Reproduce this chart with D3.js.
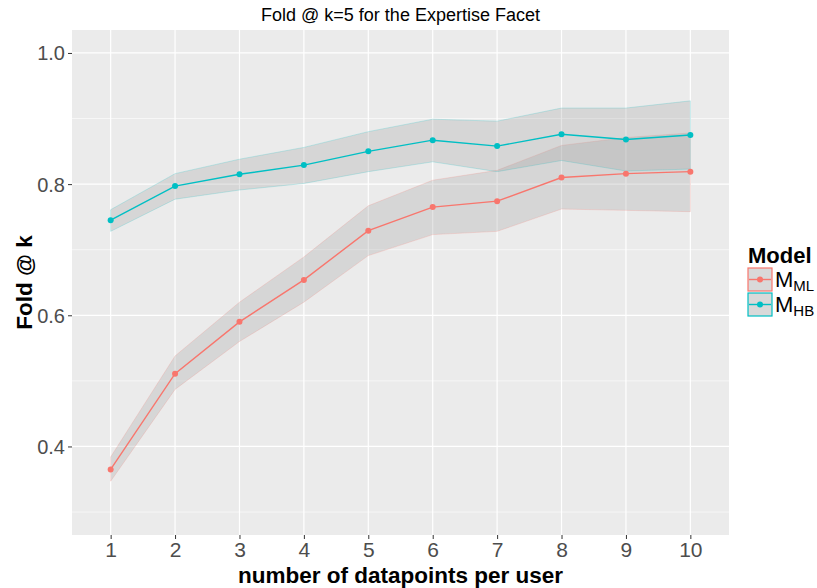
<!DOCTYPE html>
<html><head><meta charset="utf-8">
<script src="https://cdn.jsdelivr.net/npm/d3@7"></script>
<style>body{margin:0;background:#fff}svg{display:block}text{font-family:"Liberation Sans",Arial,sans-serif}</style>
</head><body><svg id="c" width="817" height="588"></svg>
<script>
const xCats = [1,2,3,4,5,6,7,8,9,10];
const mlMean  = [0.365,0.511,0.590,0.654,0.729,0.765,0.774,0.810,0.816,0.819];
const mlUpper = [0.384,0.538,0.620,0.689,0.767,0.806,0.821,0.859,0.871,0.878];
const mlLower = [0.347,0.487,0.560,0.620,0.691,0.723,0.728,0.762,0.760,0.758];
const hbMean  = [0.745,0.797,0.815,0.829,0.850,0.867,0.858,0.876,0.868,0.875];
const hbUpper = [0.761,0.816,0.838,0.856,0.880,0.899,0.896,0.916,0.916,0.927];
const hbLower = [0.728,0.777,0.791,0.801,0.819,0.834,0.819,0.836,0.820,0.823];
const yTicks = [0.4,0.6,0.8,1.0];
const yMinor = [0.3,0.5,0.7,0.9];
const seriesNames = [["M","ML"],["M","HB"]];
const colors = ["#F8766D","#00BFC4"];

const svg = d3.select("#c");
const L=72,R=729,T=30,B=535;
const x = d3.scaleLinear().domain([0.4,10.6]).range([L,R]);
const y = d3.scaleLinear().domain([0.265,1.035]).range([B,T]);

svg.append("rect").attr("x",L).attr("y",T).attr("width",R-L).attr("height",B-T).attr("fill","#EBEBEB");
const g = svg.append("g");
g.selectAll(".ym").data(yMinor).join("line").attr("x1",L).attr("x2",R).attr("y1",d=>y(d)).attr("y2",d=>y(d)).attr("stroke","#fff").attr("stroke-width",0.6);
g.selectAll(".yM").data(yTicks).join("line").attr("x1",L).attr("x2",R).attr("y1",d=>y(d)).attr("y2",d=>y(d)).attr("stroke","#fff").attr("stroke-width",1.2);
g.selectAll(".xM").data(xCats).join("line").attr("y1",T).attr("y2",B).attr("x1",d=>x(d)).attr("x2",d=>x(d)).attr("stroke","#fff").attr("stroke-width",1.2);

const series = [
  {mean:mlMean,up:mlUpper,lo:mlLower,col:colors[0]},
  {mean:hbMean,up:hbUpper,lo:hbLower,col:colors[1]}
];
const area = d3.area().x((d,i)=>x(xCats[i])).y0(d=>y(d[0])).y1(d=>y(d[1]));
series.forEach(s=>{
  const dd = xCats.map((c,i)=>[s.lo[i],s.up[i]]);
  svg.append("path").attr("d",area(dd)).attr("fill","#999").attr("fill-opacity",0.25)
    .attr("stroke",s.col).attr("stroke-opacity",0.2).attr("stroke-width",1);
});
const line = d3.line().x((d,i)=>x(xCats[i])).y(d=>y(d));
series.forEach(s=>{
  svg.append("path").attr("d",line(s.mean)).attr("fill","none").attr("stroke",s.col).attr("stroke-width",1.4);
  svg.selectAll(null).data(s.mean).join("circle").attr("cx",(d,i)=>x(xCats[i])).attr("cy",d=>y(d)).attr("r",3).attr("fill",s.col);
});

// axes
const ya = svg.append("g").attr("transform",`translate(${L},0)`).call(d3.axisLeft(y).tickValues(yTicks).tickFormat(d3.format(".1f")).tickSize(4).tickPadding(3));
ya.select(".domain").remove();
ya.selectAll("line").attr("stroke","#333");
ya.selectAll("text").attr("font-size",20).attr("fill","#4D4D4D").attr("dy","0.35em").style("font-family","'Liberation Sans',Arial,sans-serif");
const xa = svg.append("g").attr("transform",`translate(0,${B})`).call(d3.axisBottom(x).tickValues(xCats).tickFormat(d3.format("d")).tickSize(4).tickPadding(3));
xa.select(".domain").remove();
xa.selectAll("line").attr("stroke","#333");
xa.selectAll("text").attr("font-size",21).attr("fill","#4D4D4D").style("font-family","'Liberation Sans',Arial,sans-serif");

svg.append("text").attr("x",(L+R)/2).attr("y",21).attr("text-anchor","middle").attr("font-size",18).attr("fill","#000").text("Fold @ k=5 for the Expertise Facet");
svg.append("text").attr("x",(L+R)/2).attr("y",583).attr("text-anchor","middle").attr("font-size",22.5).attr("font-weight","bold").attr("fill","#000").text("number of datapoints per user");
svg.append("text").attr("transform",`translate(32,${(T+B)/2}) rotate(-90)`).attr("text-anchor","middle").attr("font-size",22.5).attr("font-weight","bold").attr("fill","#000").text("Fold @ k");

// legend
const lg = svg.append("g");
lg.append("text").attr("x",748).attr("y",263).attr("font-size",22).attr("font-weight","bold").text("Model");
seriesNames.forEach((nm,i)=>{
  const yy = 268 + i*25;
  lg.append("rect").attr("x",748).attr("y",yy).attr("width",24).attr("height",23).attr("fill","#D9D9D9").attr("stroke",colors[i]).attr("stroke-width",1.2);
  lg.append("line").attr("x1",749).attr("x2",771).attr("y1",yy+11.5).attr("y2",yy+11.5).attr("stroke",colors[i]).attr("stroke-width",1.4);
  lg.append("circle").attr("cx",760).attr("cy",yy+11.5).attr("r",3).attr("fill",colors[i]);
  const t = lg.append("text").attr("x",775).attr("y",yy+19).attr("font-size",22).attr("fill","#000");
  t.append("tspan").text(nm[0]);
  t.append("tspan").attr("font-size",15).attr("dy",4).text(nm[1]);
});
</script></body></html>
